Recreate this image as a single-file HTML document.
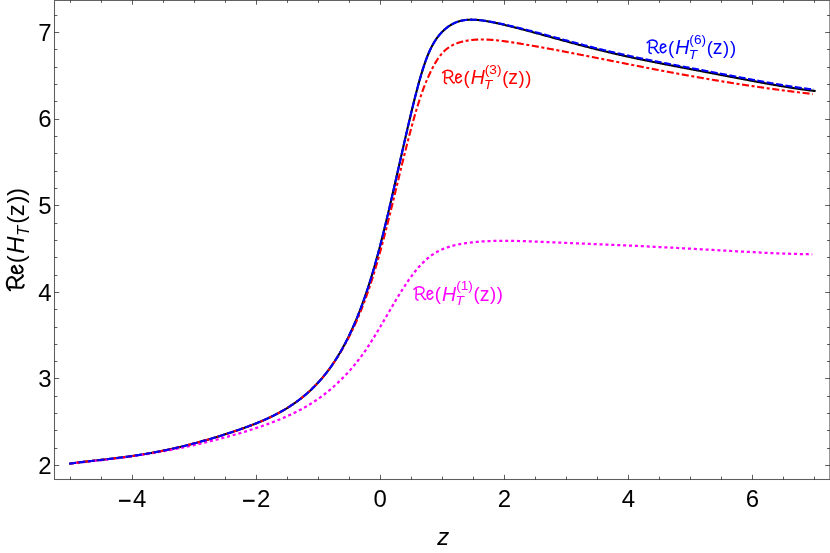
<!DOCTYPE html>
<html><head><meta charset="utf-8"><title>Re(H_T(z))</title>
<style>
html,body{margin:0;padding:0;background:#fff;overflow:hidden;}
svg{display:block;will-change:transform;font-family:"Liberation Sans",sans-serif;}
</style></head>
<body>
<svg width="830" height="553" viewBox="0 0 830 553">
<rect x="0" y="0" width="830" height="553" fill="#fff"/>
<g fill="none" stroke-width="2.1">
<path d="M70.20,463.54 L71.03,463.43 L71.86,463.32 L72.68,463.21 L73.51,463.11 L74.34,463.00 L75.17,462.90 L76.00,462.79 L76.82,462.69 L77.65,462.59 L78.48,462.49 L79.31,462.39 L80.14,462.29 L80.96,462.19 L81.79,462.09 L82.62,461.99 L83.45,461.89 L84.28,461.80 L85.10,461.70 L85.93,461.60 L86.76,461.51 L87.59,461.41 L88.42,461.32 L89.24,461.22 L90.07,461.13 L90.90,461.04 L91.73,460.94 L92.56,460.85 L93.38,460.75 L94.21,460.66 L95.04,460.57 L95.87,460.47 L96.70,460.38 L97.53,460.29 L98.35,460.19 L99.18,460.10 L100.01,460.01 L100.84,459.91 L101.67,459.82 L102.49,459.72 L103.32,459.63 L104.15,459.53 L104.98,459.44 L105.81,459.34 L106.63,459.25 L107.46,459.15 L108.29,459.06 L109.12,458.96 L109.95,458.86 L110.77,458.76 L111.60,458.66 L112.43,458.57 L113.26,458.47 L114.09,458.37 L114.91,458.27 L115.74,458.16 L116.57,458.06 L117.40,457.96 L118.23,457.86 L119.05,457.75 L119.88,457.65 L120.71,457.54 L121.54,457.43 L122.37,457.33 L123.19,457.22 L124.02,457.11 L124.85,457.00 L125.68,456.89 L126.51,456.78 L127.33,456.67 L128.16,456.55 L128.99,456.44 L129.82,456.32 L130.65,456.21 L131.47,456.09 L132.30,455.97 L133.13,455.85 L133.96,455.73 L134.79,455.61 L135.61,455.48 L136.44,455.36 L137.27,455.24 L138.10,455.11 L138.93,454.98 L139.75,454.85 L140.58,454.72 L141.41,454.59 L142.24,454.46 L143.07,454.33 L143.89,454.19 L144.72,454.06 L145.55,453.92 L146.38,453.78 L147.21,453.64 L148.03,453.50 L148.86,453.36 L149.69,453.21 L150.52,453.07 L151.35,452.92 L152.18,452.77 L153.00,452.63 L153.83,452.47 L154.66,452.32 L155.49,452.17 L156.32,452.02 L157.14,451.86 L157.97,451.70 L158.80,451.54 L159.63,451.38 L160.46,451.22 L161.28,451.06 L162.11,450.89 L162.94,450.73 L163.77,450.56 L164.60,450.39 L165.42,450.22 L166.25,450.05 L167.08,449.88 L167.91,449.70 L168.74,449.53 L169.56,449.35 L170.39,449.17 L171.22,448.99 L172.05,448.81 L172.88,448.63 L173.70,448.44 L174.53,448.25 L175.36,448.07 L176.19,447.88 L177.02,447.69 L177.84,447.49 L178.67,447.30 L179.50,447.11 L180.33,446.91 L181.16,446.71 L181.98,446.51 L182.81,446.31 L183.64,446.11 L184.47,445.91 L185.30,445.70 L186.12,445.49 L186.95,445.29 L187.78,445.08 L188.61,444.87 L189.44,444.65 L190.26,444.44 L191.09,444.23 L191.92,444.01 L192.75,443.79 L193.58,443.57 L194.40,443.35 L195.23,443.13 L196.06,442.91 L196.89,442.68 L197.72,442.46 L198.54,442.23 L199.37,442.00 L200.20,441.77 L201.03,441.54 L201.86,441.31 L202.68,441.08 L203.51,440.84 L204.34,440.61 L205.17,440.37 L206.00,440.13 L206.83,439.89 L207.65,439.65 L208.48,439.41 L209.31,439.17 L210.14,438.92 L210.97,438.68 L211.79,438.43 L212.62,438.18 L213.45,437.94 L214.28,437.69 L215.11,437.44 L215.93,437.18 L216.76,436.93 L217.59,436.68 L218.42,436.42 L219.25,436.17 L220.07,435.91 L220.90,435.65 L221.73,435.39 L222.56,435.13 L223.39,434.87 L224.21,434.61 L225.04,434.34 L225.87,434.08 L226.70,433.81 L227.53,433.55 L228.35,433.28 L229.18,433.01 L230.01,432.74 L230.84,432.47 L231.67,432.19 L232.49,431.92 L233.32,431.64 L234.15,431.37 L234.98,431.09 L235.81,430.81 L236.63,430.53 L237.46,430.24 L238.29,429.96 L239.12,429.67 L239.95,429.38 L240.77,429.10 L241.60,428.80 L242.43,428.51 L243.26,428.22 L244.09,427.92 L244.91,427.62 L245.74,427.32 L246.57,427.02 L247.40,426.71 L248.23,426.41 L249.05,426.10 L249.88,425.79 L250.71,425.47 L251.54,425.16 L252.37,424.84 L253.19,424.52 L254.02,424.19 L254.85,423.87 L255.68,423.54 L256.51,423.20 L257.34,422.87 L258.16,422.53 L258.99,422.19 L259.82,421.85 L260.65,421.50 L261.48,421.15 L262.30,420.79 L263.13,420.43 L263.96,420.07 L264.79,419.71 L265.62,419.34 L266.44,418.97 L267.27,418.59 L268.10,418.21 L268.93,417.82 L269.76,417.43 L270.58,417.04 L271.41,416.64 L272.24,416.24 L273.07,415.83 L273.90,415.42 L274.72,415.00 L275.55,414.58 L276.38,414.15 L277.21,413.72 L278.04,413.28 L278.86,412.83 L279.69,412.38 L280.52,411.93 L281.35,411.47 L282.18,411.00 L283.00,410.52 L283.83,410.04 L284.66,409.56 L285.49,409.06 L286.32,408.56 L287.14,408.06 L287.97,407.54 L288.80,407.02 L289.63,406.49 L290.46,405.96 L291.28,405.41 L292.11,404.86 L292.94,404.30 L293.77,403.74 L294.60,403.16 L295.42,402.58 L296.25,401.99 L297.08,401.39 L297.91,400.78 L298.74,400.16 L299.56,399.53 L300.39,398.89 L301.22,398.25 L302.05,397.59 L302.88,396.93 L303.70,396.25 L304.53,395.56 L305.36,394.87 L306.19,394.16 L307.02,393.44 L307.84,392.71 L308.67,391.97 L309.50,391.21 L310.33,390.45 L311.16,389.67 L311.99,388.88 L312.81,388.08 L313.64,387.26 L314.47,386.43 L315.30,385.59 L316.13,384.73 L316.95,383.86 L317.78,382.98 L318.61,382.08 L319.44,381.16 L320.27,380.23 L321.09,379.29 L321.92,378.32 L322.75,377.35 L323.58,376.35 L324.41,375.34 L325.23,374.31 L326.06,373.27 L326.89,372.20 L327.72,371.12 L328.55,370.02 L329.37,368.90 L330.20,367.76 L331.03,366.60 L331.86,365.42 L332.69,364.22 L333.51,363.00 L334.34,361.76 L335.17,360.49 L336.00,359.21 L336.83,357.90 L337.65,356.57 L338.48,355.21 L339.31,353.83 L340.14,352.43 L340.97,351.00 L341.79,349.55 L342.62,348.07 L343.45,346.56 L344.28,345.03 L345.11,343.48 L345.93,341.89 L346.76,340.28 L347.59,338.64 L348.42,336.97 L349.25,335.27 L350.07,333.54 L350.90,331.78 L351.73,329.99 L352.56,328.17 L353.39,326.31 L354.21,324.43 L355.04,322.51 L355.87,320.55 L356.70,318.57 L357.53,316.54 L358.35,314.49 L359.18,312.39 L360.01,310.26 L360.84,308.09 L361.67,305.89 L362.49,303.65 L363.32,301.36 L364.15,299.04 L364.98,296.68 L365.81,294.27 L366.64,291.82 L367.46,289.33 L368.29,286.80 L369.12,284.22 L369.95,281.60 L370.78,278.94 L371.60,276.22 L372.43,273.47 L373.26,270.66 L374.09,267.82 L374.92,264.92 L375.74,261.98 L376.57,259.00 L377.40,255.98 L378.23,252.91 L379.06,249.79 L379.88,246.64 L380.71,243.45 L381.54,240.22 L382.37,236.95 L383.20,233.64 L384.02,230.30 L384.85,226.92 L385.68,223.52 L386.51,220.08 L387.34,216.62 L388.16,213.13 L388.99,209.62 L389.82,206.08 L390.65,202.52 L391.48,198.95 L392.30,195.35 L393.13,191.74 L393.96,188.12 L394.79,184.48 L395.62,180.84 L396.44,177.18 L397.27,173.52 L398.10,169.86 L398.93,166.19 L399.76,162.53 L400.58,158.86 L401.41,155.20 L402.24,151.54 L403.07,147.89 L403.90,144.25 L404.72,140.63 L405.55,137.01 L406.38,133.41 L407.21,129.83 L408.04,126.27 L408.86,122.73 L409.69,119.21 L410.52,115.72 L411.35,112.27 L412.18,108.84 L413.00,105.45 L413.83,102.10 L414.66,98.79 L415.49,95.53 L416.32,92.32 L417.15,89.16 L417.97,86.06 L418.80,83.02 L419.63,80.05 L420.46,77.15 L421.29,74.32 L422.11,71.58 L422.94,68.92 L423.77,66.35 L424.60,63.88 L425.43,61.50 L426.25,59.22 L427.08,57.04 L427.91,54.95 L428.74,52.97 L429.57,51.09 L430.39,49.30 L431.22,47.60 L432.05,46.00 L432.88,44.48 L433.71,43.04 L434.53,41.67 L435.36,40.38 L436.19,39.15 L437.02,37.98 L437.85,36.87 L438.67,35.81 L439.50,34.80 L440.33,33.84 L441.16,32.92 L441.99,32.05 L442.81,31.21 L443.64,30.41 L444.47,29.65 L445.30,28.93 L446.13,28.24 L446.95,27.58 L447.78,26.96 L448.61,26.37 L449.44,25.81 L450.27,25.28 L451.09,24.78 L451.92,24.31 L452.75,23.87 L453.58,23.45 L454.41,23.07 L455.23,22.70 L456.06,22.36 L456.89,22.05 L457.72,21.76 L458.55,21.49 L459.37,21.24 L460.20,21.01 L461.03,20.81 L461.86,20.62 L462.69,20.45 L463.51,20.30 L464.34,20.17 L465.17,20.06 L466.00,19.96 L466.83,19.87 L467.65,19.81 L468.48,19.75 L469.31,19.71 L470.14,19.68 L470.97,19.67 L471.80,19.67 L472.62,19.68 L473.45,19.70 L474.28,19.73 L475.11,19.77 L475.94,19.82 L476.76,19.88 L477.59,19.95 L478.42,20.03 L479.25,20.12 L480.08,20.21 L480.90,20.31 L481.73,20.42 L482.56,20.53 L483.39,20.65 L484.22,20.77 L485.04,20.91 L485.87,21.04 L486.70,21.18 L487.53,21.33 L488.36,21.47 L489.18,21.63 L490.01,21.78 L490.84,21.94 L491.67,22.11 L492.50,22.27 L493.32,22.44 L494.15,22.61 L494.98,22.79 L495.81,22.96 L496.64,23.14 L497.46,23.32 L498.29,23.50 L499.12,23.69 L499.95,23.87 L500.78,24.06 L501.60,24.25 L502.43,24.44 L503.26,24.63 L504.09,24.82 L504.92,25.02 L505.74,25.21 L506.57,25.41 L507.40,25.61 L508.23,25.81 L509.06,26.01 L509.88,26.21 L510.71,26.41 L511.54,26.62 L512.37,26.82 L513.20,27.03 L514.02,27.24 L514.85,27.45 L515.68,27.66 L516.51,27.87 L517.34,28.08 L518.16,28.29 L518.99,28.51 L519.82,28.72 L520.65,28.93 L521.48,29.15 L522.31,29.37 L523.13,29.58 L523.96,29.80 L524.79,30.02 L525.62,30.24 L526.45,30.46 L527.27,30.68 L528.10,30.90 L528.93,31.12 L529.76,31.35 L530.59,31.57 L531.41,31.79 L532.24,32.02 L533.07,32.24 L533.90,32.47 L534.73,32.69 L535.55,32.92 L536.38,33.14 L537.21,33.37 L538.04,33.60 L538.87,33.82 L539.69,34.05 L540.52,34.28 L541.35,34.50 L542.18,34.73 L543.01,34.96 L543.83,35.19 L544.66,35.42 L545.49,35.65 L546.32,35.87 L547.15,36.10 L547.97,36.33 L548.80,36.56 L549.63,36.79 L550.46,37.02 L551.29,37.25 L552.11,37.47 L552.94,37.70 L553.77,37.93 L554.60,38.16 L555.43,38.39 L556.25,38.62 L557.08,38.84 L557.91,39.07 L558.74,39.30 L559.57,39.53 L560.39,39.76 L561.22,39.98 L562.05,40.21 L562.88,40.44 L563.71,40.66 L564.53,40.89 L565.36,41.11 L566.19,41.34 L567.02,41.57 L567.85,41.79 L568.67,42.01 L569.50,42.24 L570.33,42.46 L571.16,42.69 L571.99,42.91 L572.81,43.13 L573.64,43.35 L574.47,43.58 L575.30,43.80 L576.13,44.02 L576.96,44.24 L577.78,44.46 L578.61,44.68 L579.44,44.90 L580.27,45.12 L581.10,45.33 L581.92,45.55 L582.75,45.77 L583.58,45.99 L584.41,46.20 L585.24,46.42 L586.06,46.63 L586.89,46.85 L587.72,47.06 L588.55,47.27 L589.38,47.48 L590.20,47.70 L591.03,47.91 L591.86,48.12 L592.69,48.33 L593.52,48.54 L594.34,48.75 L595.17,48.96 L596.00,49.16 L596.83,49.37 L597.66,49.58 L598.48,49.78 L599.31,49.99 L600.14,50.19 L600.97,50.39 L601.80,50.60 L602.62,50.80 L603.45,51.00 L604.28,51.20 L605.11,51.40 L605.94,51.60 L606.76,51.80 L607.59,52.00 L608.42,52.20 L609.25,52.39 L610.08,52.59 L610.90,52.79 L611.73,52.98 L612.56,53.17 L613.39,53.37 L614.22,53.56 L615.04,53.75 L615.87,53.94 L616.70,54.13 L617.53,54.32 L618.36,54.51 L619.18,54.70 L620.01,54.89 L620.84,55.08 L621.67,55.26 L622.50,55.45 L623.32,55.64 L624.15,55.82 L624.98,56.00 L625.81,56.19 L626.64,56.37 L627.46,56.55 L628.29,56.73 L629.12,56.91 L629.95,57.09 L630.78,57.27 L631.61,57.45 L632.43,57.63 L633.26,57.81 L634.09,57.98 L634.92,58.16 L635.75,58.34 L636.57,58.51 L637.40,58.69 L638.23,58.86 L639.06,59.03 L639.89,59.21 L640.71,59.38 L641.54,59.55 L642.37,59.72 L643.20,59.89 L644.03,60.06 L644.85,60.23 L645.68,60.40 L646.51,60.57 L647.34,60.74 L648.17,60.91 L648.99,61.08 L649.82,61.24 L650.65,61.41 L651.48,61.58 L652.31,61.74 L653.13,61.91 L653.96,62.07 L654.79,62.24 L655.62,62.40 L656.45,62.56 L657.27,62.73 L658.10,62.89 L658.93,63.05 L659.76,63.22 L660.59,63.38 L661.41,63.54 L662.24,63.70 L663.07,63.86 L663.90,64.03 L664.73,64.19 L665.55,64.35 L666.38,64.51 L667.21,64.67 L668.04,64.83 L668.87,64.99 L669.69,65.15 L670.52,65.31 L671.35,65.47 L672.18,65.63 L673.01,65.79 L673.83,65.94 L674.66,66.10 L675.49,66.26 L676.32,66.42 L677.15,66.58 L677.97,66.74 L678.80,66.90 L679.63,67.05 L680.46,67.21 L681.29,67.37 L682.12,67.53 L682.94,67.69 L683.77,67.84 L684.60,68.00 L685.43,68.16 L686.26,68.32 L687.08,68.48 L687.91,68.63 L688.74,68.79 L689.57,68.95 L690.40,69.11 L691.22,69.26 L692.05,69.42 L692.88,69.58 L693.71,69.74 L694.54,69.90 L695.36,70.05 L696.19,70.21 L697.02,70.37 L697.85,70.53 L698.68,70.68 L699.50,70.84 L700.33,71.00 L701.16,71.16 L701.99,71.31 L702.82,71.47 L703.64,71.63 L704.47,71.79 L705.30,71.95 L706.13,72.10 L706.96,72.26 L707.78,72.42 L708.61,72.58 L709.44,72.74 L710.27,72.89 L711.10,73.05 L711.92,73.21 L712.75,73.37 L713.58,73.53 L714.41,73.68 L715.24,73.84 L716.06,74.00 L716.89,74.16 L717.72,74.32 L718.55,74.48 L719.38,74.63 L720.20,74.79 L721.03,74.95 L721.86,75.11 L722.69,75.27 L723.52,75.43 L724.34,75.58 L725.17,75.74 L726.00,75.90 L726.83,76.06 L727.66,76.22 L728.48,76.38 L729.31,76.53 L730.14,76.69 L730.97,76.85 L731.80,77.01 L732.62,77.17 L733.45,77.32 L734.28,77.48 L735.11,77.64 L735.94,77.80 L736.77,77.96 L737.59,78.11 L738.42,78.27 L739.25,78.43 L740.08,78.59 L740.91,78.74 L741.73,78.90 L742.56,79.06 L743.39,79.22 L744.22,79.37 L745.05,79.53 L745.87,79.69 L746.70,79.84 L747.53,80.00 L748.36,80.15 L749.19,80.31 L750.01,80.47 L750.84,80.62 L751.67,80.78 L752.50,80.93 L753.33,81.09 L754.15,81.24 L754.98,81.39 L755.81,81.55 L756.64,81.70 L757.47,81.86 L758.29,82.01 L759.12,82.16 L759.95,82.31 L760.78,82.47 L761.61,82.62 L762.43,82.77 L763.26,82.92 L764.09,83.07 L764.92,83.22 L765.75,83.37 L766.57,83.52 L767.40,83.67 L768.23,83.82 L769.06,83.97 L769.89,84.11 L770.71,84.26 L771.54,84.41 L772.37,84.55 L773.20,84.70 L774.03,84.85 L774.85,84.99 L775.68,85.13 L776.51,85.28 L777.34,85.42 L778.17,85.56 L778.99,85.70 L779.82,85.85 L780.65,85.99 L781.48,86.13 L782.31,86.26 L783.13,86.40 L783.96,86.54 L784.79,86.68 L785.62,86.81 L786.45,86.95 L787.27,87.08 L788.10,87.22 L788.93,87.35 L789.76,87.48 L790.59,87.61 L791.42,87.74 L792.24,87.87 L793.07,88.00 L793.90,88.13 L794.73,88.25 L795.56,88.38 L796.38,88.50 L797.21,88.63 L798.04,88.75 L798.87,88.87 L799.70,88.99 L800.52,89.11 L801.35,89.23 L802.18,89.34 L803.01,89.46 L803.84,89.57 L804.66,89.69 L805.49,89.80 L806.32,89.91 L807.15,90.02 L807.98,90.13 L808.80,90.23 L809.63,90.34 L810.46,90.44 L811.29,90.55 L812.12,90.65 L812.94,90.75 L813.77,90.85 L814.60,90.94" stroke="#000" stroke-linecap="square"/>
<path d="M70.20,463.46 L71.03,463.38 L71.85,463.30 L72.68,463.22 L73.50,463.14 L74.33,463.05 L75.15,462.97 L75.98,462.89 L76.80,462.81 L77.63,462.73 L78.45,462.64 L79.28,462.56 L80.11,462.48 L80.93,462.39 L81.76,462.31 L82.58,462.22 L83.41,462.14 L84.23,462.05 L85.06,461.97 L85.88,461.88 L86.71,461.80 L87.53,461.71 L88.36,461.62 L89.19,461.54 L90.01,461.45 L90.84,461.36 L91.66,461.27 L92.49,461.18 L93.31,461.09 L94.14,461.00 L94.96,460.91 L95.79,460.82 L96.62,460.73 L97.44,460.64 L98.27,460.55 L99.09,460.45 L99.92,460.36 L100.74,460.27 L101.57,460.17 L102.39,460.08 L103.22,459.98 L104.04,459.89 L104.87,459.79 L105.70,459.70 L106.52,459.60 L107.35,459.50 L108.17,459.40 L109.00,459.30 L109.82,459.20 L110.65,459.10 L111.47,459.00 L112.30,458.90 L113.12,458.80 L113.95,458.70 L114.78,458.60 L115.60,458.49 L116.43,458.39 L117.25,458.28 L118.08,458.18 L118.90,458.07 L119.73,457.97 L120.55,457.86 L121.38,457.75 L122.20,457.64 L123.03,457.53 L123.86,457.42 L124.68,457.31 L125.51,457.20 L126.33,457.09 L127.16,456.98 L127.98,456.86 L128.81,456.75 L129.63,456.63 L130.46,456.52 L131.28,456.40 L132.11,456.28 L132.94,456.17 L133.76,456.05 L134.59,455.93 L135.41,455.81 L136.24,455.69 L137.06,455.57 L137.89,455.44 L138.71,455.32 L139.54,455.20 L140.37,455.07 L141.19,454.95 L142.02,454.82 L142.84,454.70 L143.67,454.57 L144.49,454.44 L145.32,454.31 L146.14,454.18 L146.97,454.05 L147.79,453.92 L148.62,453.78 L149.45,453.65 L150.27,453.52 L151.10,453.38 L151.92,453.25 L152.75,453.11 L153.57,452.97 L154.40,452.83 L155.22,452.69 L156.05,452.55 L156.87,452.41 L157.70,452.27 L158.53,452.13 L159.35,451.98 L160.18,451.84 L161.00,451.69 L161.83,451.55 L162.65,451.40 L163.48,451.25 L164.30,451.10 L165.13,450.95 L165.95,450.80 L166.78,450.65 L167.61,450.50 L168.43,450.34 L169.26,450.19 L170.08,450.03 L170.91,449.88 L171.73,449.72 L172.56,449.56 L173.38,449.40 L174.21,449.24 L175.04,449.08 L175.86,448.92 L176.69,448.75 L177.51,448.59 L178.34,448.42 L179.16,448.26 L179.99,448.09 L180.81,447.92 L181.64,447.75 L182.46,447.58 L183.29,447.41 L184.12,447.24 L184.94,447.07 L185.77,446.89 L186.59,446.72 L187.42,446.54 L188.24,446.36 L189.07,446.19 L189.89,446.01 L190.72,445.83 L191.54,445.65 L192.37,445.46 L193.20,445.28 L194.02,445.10 L194.85,444.91 L195.67,444.72 L196.50,444.54 L197.32,444.35 L198.15,444.16 L198.97,443.97 L199.80,443.78 L200.62,443.59 L201.45,443.39 L202.28,443.20 L203.10,443.00 L203.93,442.80 L204.75,442.61 L205.58,442.41 L206.40,442.21 L207.23,442.01 L208.05,441.80 L208.88,441.60 L209.70,441.40 L210.53,441.19 L211.36,440.98 L212.18,440.78 L213.01,440.57 L213.83,440.36 L214.66,440.15 L215.48,439.94 L216.31,439.72 L217.13,439.51 L217.96,439.29 L218.79,439.08 L219.61,438.86 L220.44,438.64 L221.26,438.42 L222.09,438.20 L222.91,437.98 L223.74,437.76 L224.56,437.53 L225.39,437.31 L226.21,437.08 L227.04,436.85 L227.87,436.63 L228.69,436.40 L229.52,436.17 L230.34,435.93 L231.17,435.70 L231.99,435.47 L232.82,435.23 L233.64,435.00 L234.47,434.76 L235.29,434.52 L236.12,434.28 L236.95,434.04 L237.77,433.80 L238.60,433.55 L239.42,433.31 L240.25,433.06 L241.07,432.82 L241.90,432.57 L242.72,432.32 L243.55,432.07 L244.37,431.82 L245.20,431.57 L246.03,431.31 L246.85,431.06 L247.68,430.80 L248.50,430.54 L249.33,430.28 L250.15,430.02 L250.98,429.76 L251.80,429.49 L252.63,429.23 L253.45,428.96 L254.28,428.69 L255.11,428.42 L255.93,428.15 L256.76,427.87 L257.58,427.60 L258.41,427.32 L259.23,427.04 L260.06,426.76 L260.88,426.48 L261.71,426.19 L262.54,425.91 L263.36,425.62 L264.19,425.33 L265.01,425.03 L265.84,424.74 L266.66,424.44 L267.49,424.14 L268.31,423.84 L269.14,423.54 L269.96,423.23 L270.79,422.92 L271.62,422.61 L272.44,422.30 L273.27,421.98 L274.09,421.66 L274.92,421.34 L275.74,421.01 L276.57,420.69 L277.39,420.36 L278.22,420.02 L279.04,419.69 L279.87,419.35 L280.70,419.01 L281.52,418.66 L282.35,418.31 L283.17,417.96 L284.00,417.60 L284.82,417.24 L285.65,416.88 L286.47,416.52 L287.30,416.15 L288.12,415.77 L288.95,415.39 L289.78,415.01 L290.60,414.63 L291.43,414.24 L292.25,413.84 L293.08,413.44 L293.90,413.04 L294.73,412.63 L295.55,412.22 L296.38,411.81 L297.21,411.39 L298.03,410.96 L298.86,410.53 L299.68,410.10 L300.51,409.66 L301.33,409.21 L302.16,408.76 L302.98,408.30 L303.81,407.84 L304.63,407.37 L305.46,406.90 L306.29,406.42 L307.11,405.94 L307.94,405.45 L308.76,404.95 L309.59,404.45 L310.41,403.94 L311.24,403.43 L312.06,402.91 L312.89,402.38 L313.71,401.85 L314.54,401.31 L315.37,400.76 L316.19,400.20 L317.02,399.64 L317.84,399.07 L318.67,398.50 L319.49,397.91 L320.32,397.32 L321.14,396.72 L321.97,396.12 L322.79,395.50 L323.62,394.88 L324.45,394.25 L325.27,393.61 L326.10,392.96 L326.92,392.31 L327.75,391.64 L328.57,390.97 L329.40,390.29 L330.22,389.60 L331.05,388.90 L331.87,388.19 L332.70,387.47 L333.53,386.74 L334.35,386.01 L335.18,385.26 L336.00,384.51 L336.83,383.74 L337.65,382.97 L338.48,382.19 L339.30,381.39 L340.13,380.59 L340.96,379.78 L341.78,378.95 L342.61,378.12 L343.43,377.28 L344.26,376.42 L345.08,375.56 L345.91,374.69 L346.73,373.80 L347.56,372.91 L348.38,372.00 L349.21,371.09 L350.04,370.16 L350.86,369.22 L351.69,368.27 L352.51,367.31 L353.34,366.34 L354.16,365.36 L354.99,364.36 L355.81,363.35 L356.64,362.33 L357.46,361.30 L358.29,360.25 L359.12,359.18 L359.94,358.10 L360.77,357.01 L361.59,355.89 L362.42,354.76 L363.24,353.62 L364.07,352.45 L364.89,351.27 L365.72,350.07 L366.54,348.86 L367.37,347.63 L368.20,346.38 L369.02,345.12 L369.85,343.85 L370.67,342.56 L371.50,341.26 L372.32,339.95 L373.15,338.63 L373.97,337.29 L374.80,335.95 L375.62,334.59 L376.45,333.23 L377.28,331.86 L378.10,330.48 L378.93,329.09 L379.75,327.70 L380.58,326.30 L381.40,324.90 L382.23,323.49 L383.05,322.08 L383.88,320.67 L384.71,319.25 L385.53,317.83 L386.36,316.42 L387.18,315.00 L388.01,313.58 L388.83,312.16 L389.66,310.74 L390.48,309.33 L391.31,307.92 L392.13,306.51 L392.96,305.11 L393.79,303.71 L394.61,302.31 L395.44,300.93 L396.26,299.55 L397.09,298.18 L397.91,296.81 L398.74,295.46 L399.56,294.11 L400.39,292.78 L401.21,291.45 L402.04,290.14 L402.87,288.84 L403.69,287.55 L404.52,286.28 L405.34,285.02 L406.17,283.78 L406.99,282.55 L407.82,281.34 L408.64,280.15 L409.47,278.97 L410.29,277.82 L411.12,276.68 L411.95,275.56 L412.77,274.46 L413.60,273.38 L414.42,272.32 L415.25,271.28 L416.07,270.27 L416.90,269.27 L417.72,268.30 L418.55,267.35 L419.37,266.42 L420.20,265.51 L421.03,264.63 L421.85,263.77 L422.68,262.93 L423.50,262.12 L424.33,261.32 L425.15,260.56 L425.98,259.81 L426.80,259.08 L427.63,258.38 L428.46,257.70 L429.28,257.05 L430.11,256.41 L430.93,255.80 L431.76,255.20 L432.58,254.63 L433.41,254.08 L434.23,253.55 L435.06,253.04 L435.88,252.54 L436.71,252.07 L437.54,251.61 L438.36,251.18 L439.19,250.76 L440.01,250.35 L440.84,249.96 L441.66,249.59 L442.49,249.23 L443.31,248.88 L444.14,248.55 L444.96,248.23 L445.79,247.93 L446.62,247.63 L447.44,247.35 L448.27,247.08 L449.09,246.82 L449.92,246.57 L450.74,246.33 L451.57,246.10 L452.39,245.87 L453.22,245.66 L454.04,245.45 L454.87,245.25 L455.70,245.06 L456.52,244.88 L457.35,244.70 L458.17,244.53 L459.00,244.36 L459.82,244.20 L460.65,244.05 L461.47,243.90 L462.30,243.76 L463.13,243.62 L463.95,243.49 L464.78,243.36 L465.60,243.23 L466.43,243.11 L467.25,243.00 L468.08,242.88 L468.90,242.77 L469.73,242.67 L470.55,242.57 L471.38,242.47 L472.21,242.38 L473.03,242.28 L473.86,242.20 L474.68,242.11 L475.51,242.03 L476.33,241.95 L477.16,241.88 L477.98,241.81 L478.81,241.74 L479.63,241.67 L480.46,241.61 L481.29,241.55 L482.11,241.49 L482.94,241.44 L483.76,241.39 L484.59,241.34 L485.41,241.29 L486.24,241.25 L487.06,241.20 L487.89,241.16 L488.71,241.13 L489.54,241.09 L490.37,241.06 L491.19,241.03 L492.02,241.00 L492.84,240.98 L493.67,240.95 L494.49,240.93 L495.32,240.91 L496.14,240.89 L496.97,240.88 L497.79,240.86 L498.62,240.85 L499.45,240.84 L500.27,240.83 L501.10,240.83 L501.92,240.82 L502.75,240.82 L503.57,240.82 L504.40,240.82 L505.22,240.82 L506.05,240.82 L506.88,240.82 L507.70,240.83 L508.53,240.83 L509.35,240.84 L510.18,240.85 L511.00,240.86 L511.83,240.87 L512.65,240.88 L513.48,240.90 L514.30,240.91 L515.13,240.93 L515.96,240.95 L516.78,240.96 L517.61,240.98 L518.43,241.00 L519.26,241.02 L520.08,241.04 L520.91,241.07 L521.73,241.09 L522.56,241.11 L523.38,241.14 L524.21,241.16 L525.04,241.19 L525.86,241.21 L526.69,241.24 L527.51,241.27 L528.34,241.30 L529.16,241.33 L529.99,241.35 L530.81,241.38 L531.64,241.41 L532.46,241.44 L533.29,241.48 L534.12,241.51 L534.94,241.54 L535.77,241.57 L536.59,241.60 L537.42,241.64 L538.24,241.67 L539.07,241.70 L539.89,241.74 L540.72,241.77 L541.54,241.81 L542.37,241.84 L543.20,241.88 L544.02,241.91 L544.85,241.95 L545.67,241.98 L546.50,242.02 L547.32,242.05 L548.15,242.09 L548.97,242.12 L549.80,242.16 L550.63,242.19 L551.45,242.23 L552.28,242.27 L553.10,242.30 L553.93,242.34 L554.75,242.37 L555.58,242.41 L556.40,242.45 L557.23,242.48 L558.05,242.52 L558.88,242.55 L559.71,242.59 L560.53,242.62 L561.36,242.66 L562.18,242.70 L563.01,242.73 L563.83,242.77 L564.66,242.80 L565.48,242.84 L566.31,242.87 L567.13,242.91 L567.96,242.95 L568.79,242.98 L569.61,243.02 L570.44,243.05 L571.26,243.09 L572.09,243.12 L572.91,243.16 L573.74,243.19 L574.56,243.23 L575.39,243.26 L576.21,243.30 L577.04,243.33 L577.87,243.37 L578.69,243.40 L579.52,243.44 L580.34,243.47 L581.17,243.50 L581.99,243.54 L582.82,243.57 L583.64,243.61 L584.47,243.64 L585.29,243.68 L586.12,243.71 L586.95,243.75 L587.77,243.78 L588.60,243.82 L589.42,243.85 L590.25,243.89 L591.07,243.92 L591.90,243.95 L592.72,243.99 L593.55,244.02 L594.38,244.06 L595.20,244.09 L596.03,244.13 L596.85,244.16 L597.68,244.20 L598.50,244.23 L599.33,244.27 L600.15,244.30 L600.98,244.34 L601.80,244.37 L602.63,244.41 L603.46,244.44 L604.28,244.48 L605.11,244.51 L605.93,244.55 L606.76,244.58 L607.58,244.62 L608.41,244.66 L609.23,244.69 L610.06,244.73 L610.88,244.76 L611.71,244.80 L612.54,244.83 L613.36,244.87 L614.19,244.91 L615.01,244.94 L615.84,244.98 L616.66,245.01 L617.49,245.05 L618.31,245.09 L619.14,245.12 L619.96,245.16 L620.79,245.20 L621.62,245.23 L622.44,245.27 L623.27,245.31 L624.09,245.35 L624.92,245.38 L625.74,245.42 L626.57,245.46 L627.39,245.50 L628.22,245.53 L629.05,245.57 L629.87,245.61 L630.70,245.65 L631.52,245.68 L632.35,245.72 L633.17,245.76 L634.00,245.80 L634.82,245.84 L635.65,245.88 L636.47,245.92 L637.30,245.95 L638.13,245.99 L638.95,246.03 L639.78,246.07 L640.60,246.11 L641.43,246.15 L642.25,246.19 L643.08,246.23 L643.90,246.27 L644.73,246.31 L645.55,246.35 L646.38,246.39 L647.21,246.43 L648.03,246.47 L648.86,246.51 L649.68,246.55 L650.51,246.59 L651.33,246.63 L652.16,246.67 L652.98,246.71 L653.81,246.76 L654.63,246.80 L655.46,246.84 L656.29,246.88 L657.11,246.92 L657.94,246.96 L658.76,247.01 L659.59,247.05 L660.41,247.09 L661.24,247.13 L662.06,247.17 L662.89,247.22 L663.71,247.26 L664.54,247.30 L665.37,247.34 L666.19,247.39 L667.02,247.43 L667.84,247.47 L668.67,247.52 L669.49,247.56 L670.32,247.60 L671.14,247.65 L671.97,247.69 L672.80,247.74 L673.62,247.78 L674.45,247.82 L675.27,247.87 L676.10,247.91 L676.92,247.96 L677.75,248.00 L678.57,248.04 L679.40,248.09 L680.22,248.13 L681.05,248.18 L681.88,248.22 L682.70,248.27 L683.53,248.31 L684.35,248.36 L685.18,248.40 L686.00,248.45 L686.83,248.49 L687.65,248.54 L688.48,248.59 L689.30,248.63 L690.13,248.68 L690.96,248.72 L691.78,248.77 L692.61,248.81 L693.43,248.86 L694.26,248.91 L695.08,248.95 L695.91,249.00 L696.73,249.04 L697.56,249.09 L698.38,249.14 L699.21,249.18 L700.04,249.23 L700.86,249.28 L701.69,249.32 L702.51,249.37 L703.34,249.42 L704.16,249.46 L704.99,249.51 L705.81,249.55 L706.64,249.60 L707.46,249.65 L708.29,249.69 L709.12,249.74 L709.94,249.79 L710.77,249.83 L711.59,249.88 L712.42,249.93 L713.24,249.97 L714.07,250.02 L714.89,250.07 L715.72,250.11 L716.55,250.16 L717.37,250.21 L718.20,250.25 L719.02,250.30 L719.85,250.35 L720.67,250.39 L721.50,250.44 L722.32,250.49 L723.15,250.53 L723.97,250.58 L724.80,250.63 L725.63,250.67 L726.45,250.72 L727.28,250.77 L728.10,250.81 L728.93,250.86 L729.75,250.90 L730.58,250.95 L731.40,251.00 L732.23,251.04 L733.05,251.09 L733.88,251.13 L734.71,251.18 L735.53,251.22 L736.36,251.27 L737.18,251.31 L738.01,251.36 L738.83,251.40 L739.66,251.45 L740.48,251.49 L741.31,251.54 L742.13,251.58 L742.96,251.63 L743.79,251.67 L744.61,251.72 L745.44,251.76 L746.26,251.80 L747.09,251.85 L747.91,251.89 L748.74,251.93 L749.56,251.98 L750.39,252.02 L751.22,252.06 L752.04,252.11 L752.87,252.15 L753.69,252.19 L754.52,252.23 L755.34,252.27 L756.17,252.31 L756.99,252.36 L757.82,252.40 L758.64,252.44 L759.47,252.48 L760.30,252.52 L761.12,252.56 L761.95,252.60 L762.77,252.64 L763.60,252.68 L764.42,252.72 L765.25,252.76 L766.07,252.79 L766.90,252.83 L767.72,252.87 L768.55,252.91 L769.38,252.95 L770.20,252.98 L771.03,253.02 L771.85,253.06 L772.68,253.09 L773.50,253.13 L774.33,253.16 L775.15,253.20 L775.98,253.23 L776.80,253.27 L777.63,253.30 L778.46,253.33 L779.28,253.37 L780.11,253.40 L780.93,253.43 L781.76,253.46 L782.58,253.50 L783.41,253.53 L784.23,253.56 L785.06,253.59 L785.88,253.62 L786.71,253.65 L787.54,253.68 L788.36,253.71 L789.19,253.73 L790.01,253.76 L790.84,253.79 L791.66,253.82 L792.49,253.84 L793.31,253.87 L794.14,253.89 L794.97,253.92 L795.79,253.94 L796.62,253.97 L797.44,253.99 L798.27,254.01 L799.09,254.03 L799.92,254.06 L800.74,254.08 L801.57,254.10 L802.39,254.12 L803.22,254.14 L804.05,254.16 L804.87,254.17 L805.70,254.19 L806.52,254.21 L807.35,254.23 L808.17,254.24 L809.00,254.26 L809.82,254.27 L810.65,254.28 L811.47,254.30 L812.30,254.31" stroke="#ff00ff" stroke-width="2.25" stroke-dasharray="3.05 2.85"/>
<path d="M70.20,463.54 L71.03,463.42 L71.85,463.31 L72.68,463.20 L73.50,463.09 L74.33,462.98 L75.16,462.87 L75.98,462.76 L76.81,462.65 L77.63,462.55 L78.46,462.45 L79.29,462.34 L80.11,462.24 L80.94,462.14 L81.76,462.04 L82.59,461.94 L83.41,461.84 L84.24,461.75 L85.07,461.65 L85.89,461.55 L86.72,461.46 L87.54,461.37 L88.37,461.27 L89.20,461.18 L90.02,461.08 L90.85,460.99 L91.67,460.90 L92.50,460.81 L93.33,460.71 L94.15,460.62 L94.98,460.53 L95.80,460.44 L96.63,460.35 L97.46,460.26 L98.28,460.17 L99.11,460.08 L99.93,459.99 L100.76,459.89 L101.58,459.80 L102.41,459.71 L103.24,459.62 L104.06,459.53 L104.89,459.44 L105.71,459.34 L106.54,459.25 L107.37,459.16 L108.19,459.06 L109.02,458.97 L109.84,458.88 L110.67,458.78 L111.50,458.69 L112.32,458.59 L113.15,458.49 L113.97,458.40 L114.80,458.30 L115.63,458.20 L116.45,458.10 L117.28,458.00 L118.10,457.90 L118.93,457.80 L119.76,457.70 L120.58,457.59 L121.41,457.49 L122.23,457.38 L123.06,457.28 L123.88,457.17 L124.71,457.06 L125.54,456.96 L126.36,456.85 L127.19,456.73 L128.01,456.62 L128.84,456.51 L129.67,456.40 L130.49,456.28 L131.32,456.17 L132.14,456.05 L132.97,455.93 L133.80,455.81 L134.62,455.69 L135.45,455.57 L136.27,455.44 L137.10,455.32 L137.93,455.19 L138.75,455.07 L139.58,454.94 L140.40,454.81 L141.23,454.68 L142.05,454.55 L142.88,454.41 L143.71,454.28 L144.53,454.14 L145.36,454.00 L146.18,453.87 L147.01,453.73 L147.84,453.58 L148.66,453.44 L149.49,453.30 L150.31,453.15 L151.14,453.00 L151.97,452.85 L152.79,452.70 L153.62,452.55 L154.44,452.40 L155.27,452.24 L156.10,452.09 L156.92,451.93 L157.75,451.77 L158.57,451.61 L159.40,451.45 L160.23,451.28 L161.05,451.12 L161.88,450.95 L162.70,450.78 L163.53,450.61 L164.35,450.44 L165.18,450.27 L166.01,450.10 L166.83,449.92 L167.66,449.74 L168.48,449.57 L169.31,449.39 L170.14,449.20 L170.96,449.02 L171.79,448.84 L172.61,448.65 L173.44,448.46 L174.27,448.28 L175.09,448.09 L175.92,447.89 L176.74,447.70 L177.57,447.51 L178.40,447.31 L179.22,447.11 L180.05,446.92 L180.87,446.72 L181.70,446.51 L182.52,446.31 L183.35,446.11 L184.18,445.90 L185.00,445.70 L185.83,445.49 L186.65,445.28 L187.48,445.07 L188.31,444.86 L189.13,444.65 L189.96,444.43 L190.78,444.22 L191.61,444.00 L192.44,443.78 L193.26,443.56 L194.09,443.34 L194.91,443.12 L195.74,442.90 L196.57,442.68 L197.39,442.45 L198.22,442.23 L199.04,442.00 L199.87,441.78 L200.69,441.55 L201.52,441.32 L202.35,441.09 L203.17,440.86 L204.00,440.63 L204.82,440.39 L205.65,440.16 L206.48,439.92 L207.30,439.69 L208.13,439.45 L208.95,439.21 L209.78,438.98 L210.61,438.74 L211.43,438.50 L212.26,438.25 L213.08,438.01 L213.91,437.77 L214.74,437.52 L215.56,437.28 L216.39,437.03 L217.21,436.78 L218.04,436.54 L218.87,436.29 L219.69,436.04 L220.52,435.78 L221.34,435.53 L222.17,435.28 L222.99,435.02 L223.82,434.77 L224.65,434.51 L225.47,434.25 L226.30,433.99 L227.12,433.73 L227.95,433.47 L228.78,433.20 L229.60,432.94 L230.43,432.67 L231.25,432.40 L232.08,432.13 L232.91,431.86 L233.73,431.59 L234.56,431.32 L235.38,431.04 L236.21,430.76 L237.04,430.49 L237.86,430.20 L238.69,429.92 L239.51,429.64 L240.34,429.35 L241.16,429.06 L241.99,428.77 L242.82,428.48 L243.64,428.19 L244.47,427.89 L245.29,427.59 L246.12,427.29 L246.95,426.99 L247.77,426.69 L248.60,426.38 L249.42,426.07 L250.25,425.76 L251.08,425.44 L251.90,425.12 L252.73,424.80 L253.55,424.48 L254.38,424.15 L255.21,423.83 L256.03,423.49 L256.86,423.16 L257.68,422.82 L258.51,422.48 L259.34,422.14 L260.16,421.79 L260.99,421.44 L261.81,421.08 L262.64,420.72 L263.46,420.36 L264.29,420.00 L265.12,419.63 L265.94,419.25 L266.77,418.88 L267.59,418.49 L268.42,418.11 L269.25,417.72 L270.07,417.32 L270.90,416.93 L271.72,416.52 L272.55,416.12 L273.38,415.70 L274.20,415.29 L275.03,414.86 L275.85,414.44 L276.68,414.00 L277.51,413.57 L278.33,413.12 L279.16,412.67 L279.98,412.22 L280.81,411.76 L281.63,411.29 L282.46,410.82 L283.29,410.34 L284.11,409.86 L284.94,409.37 L285.76,408.87 L286.59,408.37 L287.42,407.86 L288.24,407.34 L289.07,406.82 L289.89,406.28 L290.72,405.74 L291.55,405.20 L292.37,404.64 L293.20,404.08 L294.02,403.51 L294.85,402.93 L295.68,402.35 L296.50,401.75 L297.33,401.15 L298.15,400.53 L298.98,399.91 L299.81,399.28 L300.63,398.64 L301.46,397.99 L302.28,397.33 L303.11,396.66 L303.93,395.98 L304.76,395.29 L305.59,394.59 L306.41,393.88 L307.24,393.16 L308.06,392.42 L308.89,391.68 L309.72,390.92 L310.54,390.15 L311.37,389.37 L312.19,388.58 L313.02,387.78 L313.85,386.96 L314.67,386.13 L315.50,385.28 L316.32,384.43 L317.15,383.56 L317.98,382.67 L318.80,381.78 L319.63,380.86 L320.45,379.94 L321.28,379.00 L322.10,378.04 L322.93,377.07 L323.76,376.08 L324.58,375.08 L325.41,374.06 L326.23,373.02 L327.06,371.97 L327.89,370.90 L328.71,369.82 L329.54,368.72 L330.36,367.60 L331.19,366.46 L332.02,365.30 L332.84,364.13 L333.67,362.93 L334.49,361.72 L335.32,360.49 L336.15,359.24 L336.97,357.97 L337.80,356.68 L338.62,355.37 L339.45,354.04 L340.28,352.68 L341.10,351.31 L341.93,349.91 L342.75,348.49 L343.58,347.05 L344.40,345.58 L345.23,344.09 L346.06,342.58 L346.88,341.04 L347.71,339.48 L348.53,337.89 L349.36,336.28 L350.19,334.63 L351.01,332.97 L351.84,331.27 L352.66,329.55 L353.49,327.79 L354.32,326.01 L355.14,324.20 L355.97,322.36 L356.79,320.48 L357.62,318.58 L358.45,316.64 L359.27,314.67 L360.10,312.66 L360.92,310.62 L361.75,308.55 L362.57,306.44 L363.40,304.29 L364.23,302.11 L365.05,299.88 L365.88,297.62 L366.70,295.32 L367.53,292.98 L368.36,290.60 L369.18,288.17 L370.01,285.70 L370.83,283.19 L371.66,280.64 L372.49,278.04 L373.31,275.40 L374.14,272.71 L374.96,269.98 L375.79,267.20 L376.62,264.39 L377.44,261.53 L378.27,258.62 L379.09,255.68 L379.92,252.70 L380.75,249.68 L381.57,246.63 L382.40,243.54 L383.22,240.42 L384.05,237.27 L384.87,234.09 L385.70,230.88 L386.53,227.65 L387.35,224.39 L388.18,221.12 L389.00,217.82 L389.83,214.50 L390.66,211.16 L391.48,207.80 L392.31,204.43 L393.13,201.04 L393.96,197.64 L394.79,194.24 L395.61,190.82 L396.44,187.40 L397.26,183.98 L398.09,180.56 L398.92,177.14 L399.74,173.73 L400.57,170.33 L401.39,166.93 L402.22,163.55 L403.04,160.19 L403.87,156.84 L404.70,153.51 L405.52,150.21 L406.35,146.93 L407.17,143.68 L408.00,140.46 L408.83,137.27 L409.65,134.12 L410.48,131.00 L411.30,127.92 L412.13,124.89 L412.96,121.90 L413.78,118.95 L414.61,116.05 L415.43,113.21 L416.26,110.41 L417.09,107.67 L417.91,104.99 L418.74,102.36 L419.56,99.80 L420.39,97.30 L421.22,94.86 L422.04,92.50 L422.87,90.20 L423.69,87.97 L424.52,85.81 L425.34,83.71 L426.17,81.69 L427.00,79.73 L427.82,77.84 L428.65,76.00 L429.47,74.22 L430.30,72.50 L431.13,70.82 L431.95,69.18 L432.78,67.58 L433.60,66.03 L434.43,64.52 L435.26,63.06 L436.08,61.65 L436.91,60.30 L437.73,59.02 L438.56,57.80 L439.39,56.65 L440.21,55.56 L441.04,54.54 L441.86,53.57 L442.69,52.66 L443.51,51.81 L444.34,51.00 L445.17,50.25 L445.99,49.54 L446.82,48.87 L447.64,48.24 L448.47,47.65 L449.30,47.09 L450.12,46.57 L450.95,46.08 L451.77,45.62 L452.60,45.19 L453.43,44.78 L454.25,44.40 L455.08,44.04 L455.90,43.70 L456.73,43.39 L457.56,43.09 L458.38,42.80 L459.21,42.54 L460.03,42.29 L460.86,42.05 L461.68,41.83 L462.51,41.62 L463.34,41.42 L464.16,41.23 L464.99,41.06 L465.81,40.89 L466.64,40.74 L467.47,40.60 L468.29,40.46 L469.12,40.34 L469.94,40.22 L470.77,40.12 L471.60,40.02 L472.42,39.93 L473.25,39.85 L474.07,39.78 L474.90,39.72 L475.73,39.66 L476.55,39.62 L477.38,39.58 L478.20,39.55 L479.03,39.52 L479.86,39.50 L480.68,39.49 L481.51,39.48 L482.33,39.49 L483.16,39.49 L483.98,39.51 L484.81,39.52 L485.64,39.55 L486.46,39.58 L487.29,39.61 L488.11,39.65 L488.94,39.70 L489.77,39.75 L490.59,39.80 L491.42,39.86 L492.24,39.92 L493.07,39.99 L493.90,40.06 L494.72,40.13 L495.55,40.21 L496.37,40.29 L497.20,40.38 L498.03,40.47 L498.85,40.56 L499.68,40.65 L500.50,40.75 L501.33,40.85 L502.15,40.95 L502.98,41.05 L503.81,41.16 L504.63,41.27 L505.46,41.38 L506.28,41.50 L507.11,41.61 L507.94,41.73 L508.76,41.85 L509.59,41.97 L510.41,42.09 L511.24,42.22 L512.07,42.34 L512.89,42.47 L513.72,42.60 L514.54,42.73 L515.37,42.86 L516.20,42.99 L517.02,43.12 L517.85,43.25 L518.67,43.39 L519.50,43.52 L520.33,43.66 L521.15,43.80 L521.98,43.94 L522.80,44.07 L523.63,44.21 L524.45,44.35 L525.28,44.49 L526.11,44.63 L526.93,44.78 L527.76,44.92 L528.58,45.06 L529.41,45.20 L530.24,45.35 L531.06,45.49 L531.89,45.63 L532.71,45.78 L533.54,45.92 L534.37,46.07 L535.19,46.21 L536.02,46.36 L536.84,46.51 L537.67,46.65 L538.50,46.80 L539.32,46.95 L540.15,47.10 L540.97,47.25 L541.80,47.40 L542.62,47.55 L543.45,47.70 L544.28,47.85 L545.10,48.00 L545.93,48.15 L546.75,48.30 L547.58,48.45 L548.41,48.60 L549.23,48.76 L550.06,48.91 L550.88,49.06 L551.71,49.22 L552.54,49.37 L553.36,49.52 L554.19,49.68 L555.01,49.83 L555.84,49.99 L556.67,50.14 L557.49,50.30 L558.32,50.45 L559.14,50.61 L559.97,50.77 L560.80,50.92 L561.62,51.08 L562.45,51.24 L563.27,51.39 L564.10,51.55 L564.92,51.71 L565.75,51.87 L566.58,52.02 L567.40,52.18 L568.23,52.34 L569.05,52.50 L569.88,52.66 L570.71,52.82 L571.53,52.98 L572.36,53.14 L573.18,53.30 L574.01,53.46 L574.84,53.62 L575.66,53.78 L576.49,53.94 L577.31,54.10 L578.14,54.26 L578.97,54.42 L579.79,54.58 L580.62,54.75 L581.44,54.91 L582.27,55.07 L583.09,55.23 L583.92,55.39 L584.75,55.55 L585.57,55.72 L586.40,55.88 L587.22,56.04 L588.05,56.20 L588.88,56.37 L589.70,56.53 L590.53,56.69 L591.35,56.86 L592.18,57.02 L593.01,57.18 L593.83,57.34 L594.66,57.51 L595.48,57.67 L596.31,57.83 L597.14,58.00 L597.96,58.16 L598.79,58.32 L599.61,58.49 L600.44,58.65 L601.27,58.82 L602.09,58.98 L602.92,59.14 L603.74,59.31 L604.57,59.47 L605.39,59.63 L606.22,59.80 L607.05,59.96 L607.87,60.13 L608.70,60.29 L609.52,60.45 L610.35,60.62 L611.18,60.78 L612.00,60.94 L612.83,61.11 L613.65,61.27 L614.48,61.44 L615.31,61.60 L616.13,61.76 L616.96,61.93 L617.78,62.09 L618.61,62.25 L619.44,62.42 L620.26,62.58 L621.09,62.74 L621.91,62.91 L622.74,63.07 L623.56,63.23 L624.39,63.40 L625.22,63.56 L626.04,63.72 L626.87,63.88 L627.69,64.05 L628.52,64.21 L629.35,64.37 L630.17,64.54 L631.00,64.70 L631.82,64.86 L632.65,65.02 L633.48,65.18 L634.30,65.35 L635.13,65.51 L635.95,65.67 L636.78,65.83 L637.61,65.99 L638.43,66.15 L639.26,66.32 L640.08,66.48 L640.91,66.64 L641.74,66.80 L642.56,66.96 L643.39,67.12 L644.21,67.28 L645.04,67.44 L645.86,67.60 L646.69,67.76 L647.52,67.92 L648.34,68.08 L649.17,68.24 L649.99,68.40 L650.82,68.56 L651.65,68.72 L652.47,68.88 L653.30,69.03 L654.12,69.19 L654.95,69.35 L655.78,69.51 L656.60,69.67 L657.43,69.82 L658.25,69.98 L659.08,70.14 L659.91,70.30 L660.73,70.45 L661.56,70.61 L662.38,70.77 L663.21,70.92 L664.03,71.08 L664.86,71.23 L665.69,71.39 L666.51,71.54 L667.34,71.70 L668.16,71.85 L668.99,72.01 L669.82,72.16 L670.64,72.32 L671.47,72.47 L672.29,72.63 L673.12,72.78 L673.95,72.93 L674.77,73.08 L675.60,73.24 L676.42,73.39 L677.25,73.54 L678.08,73.69 L678.90,73.85 L679.73,74.00 L680.55,74.15 L681.38,74.30 L682.21,74.45 L683.03,74.60 L683.86,74.75 L684.68,74.90 L685.51,75.05 L686.33,75.20 L687.16,75.35 L687.99,75.50 L688.81,75.64 L689.64,75.79 L690.46,75.94 L691.29,76.09 L692.12,76.24 L692.94,76.38 L693.77,76.53 L694.59,76.68 L695.42,76.82 L696.25,76.97 L697.07,77.11 L697.90,77.26 L698.72,77.40 L699.55,77.55 L700.38,77.69 L701.20,77.84 L702.03,77.98 L702.85,78.12 L703.68,78.26 L704.50,78.41 L705.33,78.55 L706.16,78.69 L706.98,78.83 L707.81,78.97 L708.63,79.12 L709.46,79.26 L710.29,79.40 L711.11,79.54 L711.94,79.68 L712.76,79.82 L713.59,79.95 L714.42,80.09 L715.24,80.23 L716.07,80.37 L716.89,80.51 L717.72,80.64 L718.55,80.78 L719.37,80.92 L720.20,81.05 L721.02,81.19 L721.85,81.33 L722.67,81.46 L723.50,81.60 L724.33,81.73 L725.15,81.87 L725.98,82.00 L726.80,82.13 L727.63,82.27 L728.46,82.40 L729.28,82.53 L730.11,82.66 L730.93,82.79 L731.76,82.93 L732.59,83.06 L733.41,83.19 L734.24,83.32 L735.06,83.45 L735.89,83.58 L736.72,83.71 L737.54,83.84 L738.37,83.96 L739.19,84.09 L740.02,84.22 L740.85,84.35 L741.67,84.47 L742.50,84.60 L743.32,84.73 L744.15,84.85 L744.97,84.98 L745.80,85.10 L746.63,85.23 L747.45,85.35 L748.28,85.48 L749.10,85.60 L749.93,85.72 L750.76,85.85 L751.58,85.97 L752.41,86.09 L753.23,86.21 L754.06,86.33 L754.89,86.45 L755.71,86.58 L756.54,86.70 L757.36,86.82 L758.19,86.94 L759.02,87.05 L759.84,87.17 L760.67,87.29 L761.49,87.41 L762.32,87.53 L763.14,87.64 L763.97,87.76 L764.80,87.88 L765.62,87.99 L766.45,88.11 L767.27,88.22 L768.10,88.34 L768.93,88.45 L769.75,88.57 L770.58,88.68 L771.40,88.79 L772.23,88.91 L773.06,89.02 L773.88,89.13 L774.71,89.24 L775.53,89.36 L776.36,89.47 L777.19,89.58 L778.01,89.69 L778.84,89.80 L779.66,89.91 L780.49,90.02 L781.32,90.13 L782.14,90.23 L782.97,90.34 L783.79,90.45 L784.62,90.56 L785.44,90.66 L786.27,90.77 L787.10,90.88 L787.92,90.98 L788.75,91.09 L789.57,91.19 L790.40,91.30 L791.23,91.40 L792.05,91.51 L792.88,91.61 L793.70,91.71 L794.53,91.82 L795.36,91.92 L796.18,92.02 L797.01,92.12 L797.83,92.22 L798.66,92.32 L799.49,92.42 L800.31,92.52 L801.14,92.62 L801.96,92.72 L802.79,92.82 L803.61,92.92 L804.44,93.02 L805.27,93.12 L806.09,93.22 L806.92,93.31 L807.74,93.41 L808.57,93.51 L809.40,93.60 L810.22,93.70 L811.05,93.79 L811.87,93.89 L812.70,93.98" stroke="#ff0000" stroke-dasharray="7.05 2.6 3.02 2.6" stroke-dashoffset="3"/>
<path d="M69.20,463.67 L70.03,463.56 L70.86,463.45 L71.68,463.34 L72.51,463.23 L73.34,463.13 L74.17,463.02 L75.00,462.92 L75.83,462.81 L76.65,462.71 L77.48,462.61 L78.31,462.51 L79.14,462.41 L79.97,462.31 L80.80,462.21 L81.62,462.11 L82.45,462.01 L83.28,461.91 L84.11,461.82 L84.94,461.72 L85.77,461.62 L86.59,461.53 L87.42,461.43 L88.25,461.34 L89.08,461.24 L89.91,461.15 L90.73,461.05 L91.56,460.96 L92.39,460.87 L93.22,460.77 L94.05,460.68 L94.88,460.59 L95.70,460.49 L96.53,460.40 L97.36,460.31 L98.19,460.21 L99.02,460.12 L99.85,460.02 L100.67,459.93 L101.50,459.84 L102.33,459.74 L103.16,459.65 L103.99,459.55 L104.81,459.46 L105.64,459.36 L106.47,459.27 L107.30,459.17 L108.13,459.07 L108.96,458.98 L109.78,458.88 L110.61,458.78 L111.44,458.68 L112.27,458.59 L113.10,458.49 L113.93,458.39 L114.75,458.28 L115.58,458.18 L116.41,458.08 L117.24,457.98 L118.07,457.88 L118.90,457.77 L119.72,457.67 L120.55,457.56 L121.38,457.45 L122.21,457.35 L123.04,457.24 L123.86,457.13 L124.69,457.02 L125.52,456.91 L126.35,456.80 L127.18,456.69 L128.01,456.57 L128.83,456.46 L129.66,456.34 L130.49,456.23 L131.32,456.11 L132.15,455.99 L132.98,455.87 L133.80,455.75 L134.63,455.63 L135.46,455.51 L136.29,455.38 L137.12,455.26 L137.95,455.13 L138.77,455.01 L139.60,454.88 L140.43,454.75 L141.26,454.62 L142.09,454.48 L142.91,454.35 L143.74,454.22 L144.57,454.08 L145.40,453.94 L146.23,453.81 L147.06,453.67 L147.88,453.53 L148.71,453.38 L149.54,453.24 L150.37,453.09 L151.20,452.95 L152.03,452.80 L152.85,452.65 L153.68,452.50 L154.51,452.35 L155.34,452.20 L156.17,452.04 L156.99,451.89 L157.82,451.73 L158.65,451.57 L159.48,451.41 L160.31,451.25 L161.14,451.09 L161.96,450.92 L162.79,450.76 L163.62,450.59 L164.45,450.42 L165.28,450.25 L166.11,450.08 L166.93,449.91 L167.76,449.73 L168.59,449.56 L169.42,449.38 L170.25,449.20 L171.08,449.02 L171.90,448.84 L172.73,448.66 L173.56,448.47 L174.39,448.29 L175.22,448.10 L176.04,447.91 L176.87,447.72 L177.70,447.53 L178.53,447.33 L179.36,447.14 L180.19,446.94 L181.01,446.75 L181.84,446.55 L182.67,446.35 L183.50,446.14 L184.33,445.94 L185.16,445.74 L185.98,445.53 L186.81,445.32 L187.64,445.11 L188.47,444.90 L189.30,444.69 L190.13,444.48 L190.95,444.26 L191.78,444.05 L192.61,443.83 L193.44,443.61 L194.27,443.39 L195.09,443.17 L195.92,442.95 L196.75,442.72 L197.58,442.50 L198.41,442.27 L199.24,442.04 L200.06,441.81 L200.89,441.58 L201.72,441.35 L202.55,441.12 L203.38,440.88 L204.21,440.65 L205.03,440.41 L205.86,440.17 L206.69,439.93 L207.52,439.69 L208.35,439.45 L209.17,439.21 L210.00,438.96 L210.83,438.72 L211.66,438.47 L212.49,438.22 L213.32,437.98 L214.14,437.73 L214.97,437.48 L215.80,437.22 L216.63,436.97 L217.46,436.72 L218.29,436.46 L219.11,436.21 L219.94,435.95 L220.77,435.69 L221.60,435.43 L222.43,435.17 L223.26,434.91 L224.08,434.65 L224.91,434.39 L225.74,434.12 L226.57,433.86 L227.40,433.59 L228.22,433.32 L229.05,433.05 L229.88,432.78 L230.71,432.51 L231.54,432.24 L232.37,431.96 L233.19,431.69 L234.02,431.41 L234.85,431.13 L235.68,430.85 L236.51,430.57 L237.34,430.29 L238.16,430.00 L238.99,429.72 L239.82,429.43 L240.65,429.14 L241.48,428.85 L242.31,428.56 L243.13,428.26 L243.96,427.96 L244.79,427.67 L245.62,427.37 L246.45,427.06 L247.27,426.76 L248.10,426.45 L248.93,426.14 L249.76,425.83 L250.59,425.52 L251.42,425.20 L252.24,424.88 L253.07,424.56 L253.90,424.24 L254.73,423.91 L255.56,423.59 L256.39,423.25 L257.21,422.92 L258.04,422.58 L258.87,422.24 L259.70,421.90 L260.53,421.55 L261.35,421.20 L262.18,420.84 L263.01,420.49 L263.84,420.13 L264.67,419.76 L265.50,419.39 L266.32,419.02 L267.15,418.64 L267.98,418.26 L268.81,417.88 L269.64,417.49 L270.47,417.10 L271.29,416.70 L272.12,416.29 L272.95,415.89 L273.78,415.48 L274.61,415.06 L275.44,414.64 L276.26,414.21 L277.09,413.78 L277.92,413.34 L278.75,412.89 L279.58,412.45 L280.40,411.99 L281.23,411.53 L282.06,411.06 L282.89,410.59 L283.72,410.11 L284.55,409.62 L285.37,409.13 L286.20,408.63 L287.03,408.13 L287.86,407.61 L288.69,407.09 L289.52,406.57 L290.34,406.03 L291.17,405.49 L292.00,404.94 L292.83,404.38 L293.66,403.81 L294.48,403.24 L295.31,402.66 L296.14,402.07 L296.97,401.47 L297.80,400.86 L298.63,400.24 L299.45,399.62 L300.28,398.98 L301.11,398.33 L301.94,397.68 L302.77,397.01 L303.60,396.34 L304.42,395.65 L305.25,394.96 L306.08,394.25 L306.91,393.53 L307.74,392.80 L308.57,392.06 L309.39,391.31 L310.22,390.55 L311.05,389.77 L311.88,388.98 L312.71,388.18 L313.53,387.37 L314.36,386.54 L315.19,385.70 L316.02,384.84 L316.85,383.97 L317.68,383.09 L318.50,382.19 L319.33,381.28 L320.16,380.35 L320.99,379.41 L321.82,378.45 L322.65,377.47 L323.47,376.48 L324.30,375.47 L325.13,374.44 L325.96,373.40 L326.79,372.33 L327.62,371.25 L328.44,370.15 L329.27,369.04 L330.10,367.90 L330.93,366.74 L331.76,365.56 L332.58,364.37 L333.41,363.15 L334.24,361.91 L335.07,360.65 L335.90,359.36 L336.73,358.06 L337.55,356.73 L338.38,355.37 L339.21,354.00 L340.04,352.60 L340.87,351.17 L341.70,349.72 L342.52,348.25 L343.35,346.74 L344.18,345.22 L345.01,343.66 L345.84,342.08 L346.66,340.47 L347.49,338.83 L348.32,337.16 L349.15,335.47 L349.98,333.74 L350.81,331.98 L351.63,330.20 L352.46,328.38 L353.29,326.53 L354.12,324.64 L354.95,322.73 L355.78,320.78 L356.60,318.79 L357.43,316.78 L358.26,314.72 L359.09,312.63 L359.92,310.51 L360.75,308.34 L361.57,306.14 L362.40,303.90 L363.23,301.62 L364.06,299.30 L364.89,296.94 L365.71,294.54 L366.54,292.10 L367.37,289.61 L368.20,287.08 L369.03,284.51 L369.86,281.89 L370.68,279.23 L371.51,276.52 L372.34,273.77 L373.17,270.97 L374.00,268.13 L374.83,265.24 L375.65,262.30 L376.48,259.33 L377.31,256.30 L378.14,253.24 L378.97,250.13 L379.80,246.98 L380.62,243.79 L381.45,240.56 L382.28,237.29 L383.11,233.99 L383.94,230.65 L384.76,227.28 L385.59,223.88 L386.42,220.44 L387.25,216.98 L388.08,213.50 L388.91,209.98 L389.73,206.45 L390.56,202.89 L391.39,199.32 L392.22,195.72 L393.05,192.11 L393.88,188.49 L394.70,184.85 L395.53,181.21 L396.36,177.56 L397.19,173.90 L398.02,170.23 L398.84,166.56 L399.67,162.90 L400.50,159.23 L401.33,155.57 L402.16,151.91 L402.99,148.26 L403.81,144.61 L404.64,140.98 L405.47,137.37 L406.30,133.76 L407.13,130.18 L407.96,126.62 L408.78,123.07 L409.61,119.55 L410.44,116.06 L411.27,112.60 L412.10,109.17 L412.93,105.77 L413.75,102.42 L414.58,99.11 L415.41,95.84 L416.24,92.62 L417.07,89.46 L417.89,86.35 L418.72,83.30 L419.55,80.32 L420.38,77.42 L421.21,74.58 L422.04,71.83 L422.86,69.16 L423.69,66.59 L424.52,64.10 L425.35,61.71 L426.18,59.42 L427.01,57.23 L427.83,55.14 L428.66,53.15 L429.49,51.25 L430.32,49.46 L431.15,47.75 L431.98,46.14 L432.80,44.61 L433.63,43.16 L434.46,41.79 L435.29,40.49 L436.12,39.26 L436.94,38.08 L437.77,36.97 L438.60,35.90 L439.43,34.89 L440.26,33.92 L441.09,33.00 L441.91,32.12 L442.74,31.28 L443.57,30.48 L444.40,29.72 L445.23,28.99 L446.06,28.29 L446.88,27.63 L447.71,27.01 L448.54,26.42 L449.37,25.85 L450.20,25.32 L451.02,24.82 L451.85,24.35 L452.68,23.90 L453.51,23.49 L454.34,23.10 L455.17,22.73 L455.99,22.39 L456.82,22.07 L457.65,21.78 L458.48,21.51 L459.31,21.26 L460.14,21.03 L460.96,20.82 L461.79,20.64 L462.62,20.47 L463.45,20.31 L464.28,20.18 L465.11,20.06 L465.93,19.96 L466.76,19.88 L467.59,19.81 L468.42,19.76 L469.25,19.71 L470.07,19.69 L470.90,19.67 L471.73,19.67 L472.56,19.68 L473.39,19.70 L474.22,19.73 L475.04,19.77 L475.87,19.82 L476.70,19.88 L477.53,19.95 L478.36,20.02 L479.19,20.09 L480.01,20.17 L480.84,20.26 L481.67,20.35 L482.50,20.45 L483.33,20.56 L484.16,20.67 L484.98,20.78 L485.81,20.91 L486.64,21.03 L487.47,21.16 L488.30,21.30 L489.12,21.44 L489.95,21.58 L490.78,21.73 L491.61,21.88 L492.44,22.03 L493.27,22.19 L494.09,22.34 L494.92,22.50 L495.75,22.67 L496.58,22.83 L497.41,23.00 L498.24,23.17 L499.06,23.34 L499.89,23.51 L500.72,23.69 L501.55,23.87 L502.38,24.05 L503.20,24.23 L504.03,24.41 L504.86,24.59 L505.69,24.78 L506.52,24.97 L507.35,25.15 L508.17,25.34 L509.00,25.53 L509.83,25.72 L510.66,25.92 L511.49,26.11 L512.32,26.31 L513.14,26.50 L513.97,26.70 L514.80,26.90 L515.63,27.10 L516.46,27.30 L517.29,27.50 L518.11,27.70 L518.94,27.91 L519.77,28.11 L520.60,28.32 L521.43,28.52 L522.25,28.73 L523.08,28.94 L523.91,29.16 L524.74,29.37 L525.57,29.58 L526.40,29.79 L527.22,30.01 L528.05,30.22 L528.88,30.43 L529.71,30.65 L530.54,30.86 L531.37,31.08 L532.19,31.30 L533.02,31.52 L533.85,31.73 L534.68,31.95 L535.51,32.17 L536.34,32.39 L537.16,32.61 L537.99,32.83 L538.82,33.05 L539.65,33.27 L540.48,33.49 L541.30,33.71 L542.13,33.93 L542.96,34.15 L543.79,34.37 L544.62,34.59 L545.45,34.81 L546.27,35.03 L547.10,35.25 L547.93,35.47 L548.76,35.70 L549.59,35.92 L550.42,36.14 L551.24,36.36 L552.07,36.58 L552.90,36.80 L553.73,37.02 L554.56,37.25 L555.38,37.47 L556.21,37.69 L557.04,37.91 L557.87,38.13 L558.70,38.35 L559.53,38.57 L560.35,38.79 L561.18,39.02 L562.01,39.24 L562.84,39.47 L563.67,39.69 L564.50,39.92 L565.32,40.14 L566.15,40.37 L566.98,40.59 L567.81,40.82 L568.64,41.04 L569.47,41.26 L570.29,41.48 L571.12,41.71 L571.95,41.93 L572.78,42.15 L573.61,42.37 L574.43,42.59 L575.26,42.81 L576.09,43.03 L576.92,43.25 L577.75,43.47 L578.58,43.68 L579.40,43.90 L580.23,44.12 L581.06,44.34 L581.89,44.55 L582.72,44.77 L583.55,44.98 L584.37,45.20 L585.20,45.41 L586.03,45.62 L586.86,45.84 L587.69,46.05 L588.52,46.26 L589.34,46.47 L590.17,46.68 L591.00,46.89 L591.83,47.10 L592.66,47.31 L593.48,47.52 L594.31,47.72 L595.14,47.93 L595.97,48.14 L596.80,48.34 L597.63,48.55 L598.45,48.75 L599.28,48.96 L600.11,49.16 L600.94,49.36 L601.77,49.56 L602.60,49.76 L603.42,49.96 L604.25,50.16 L605.08,50.36 L605.91,50.56 L606.74,50.76 L607.56,50.95 L608.39,51.15 L609.22,51.34 L610.05,51.54 L610.88,51.73 L611.71,51.93 L612.53,52.12 L613.36,52.31 L614.19,52.50 L615.02,52.69 L615.85,52.88 L616.68,53.07 L617.50,53.26 L618.33,53.45 L619.16,53.64 L619.99,53.82 L620.82,54.01 L621.65,54.19 L622.47,54.38 L623.30,54.56 L624.13,54.74 L624.96,54.93 L625.79,55.11 L626.61,55.29 L627.44,55.47 L628.27,55.65 L629.10,55.83 L629.93,56.01 L630.76,56.19 L631.58,56.36 L632.41,56.54 L633.24,56.72 L634.07,56.89 L634.90,57.07 L635.73,57.24 L636.55,57.41 L637.38,57.59 L638.21,57.76 L639.04,57.93 L639.87,58.10 L640.69,58.27 L641.52,58.45 L642.35,58.62 L643.18,58.79 L644.01,58.96 L644.84,59.12 L645.66,59.29 L646.49,59.46 L647.32,59.63 L648.15,59.80 L648.98,59.96 L649.81,60.13 L650.63,60.29 L651.46,60.46 L652.29,60.62 L653.12,60.79 L653.95,60.95 L654.78,61.12 L655.60,61.28 L656.43,61.44 L657.26,61.60 L658.09,61.77 L658.92,61.93 L659.74,62.09 L660.57,62.25 L661.40,62.41 L662.23,62.57 L663.06,62.73 L663.89,62.90 L664.71,63.06 L665.54,63.22 L666.37,63.37 L667.20,63.53 L668.03,63.69 L668.86,63.85 L669.68,64.01 L670.51,64.17 L671.34,64.33 L672.17,64.49 L673.00,64.65 L673.83,64.80 L674.65,64.96 L675.48,65.12 L676.31,65.28 L677.14,65.44 L677.97,65.59 L678.79,65.75 L679.62,65.91 L680.45,66.06 L681.28,66.22 L682.11,66.38 L682.94,66.54 L683.76,66.69 L684.59,66.85 L685.42,67.01 L686.25,67.16 L687.08,67.32 L687.91,67.48 L688.73,67.63 L689.56,67.79 L690.39,67.95 L691.22,68.10 L692.05,68.26 L692.87,68.42 L693.70,68.58 L694.53,68.73 L695.36,68.89 L696.19,69.05 L697.02,69.20 L697.84,69.36 L698.67,69.52 L699.50,69.67 L700.33,69.83 L701.16,69.99 L701.99,70.14 L702.81,70.30 L703.64,70.46 L704.47,70.61 L705.30,70.77 L706.13,70.93 L706.96,71.08 L707.78,71.24 L708.61,71.40 L709.44,71.56 L710.27,71.71 L711.10,71.87 L711.92,72.03 L712.75,72.18 L713.58,72.34 L714.41,72.50 L715.24,72.66 L716.07,72.81 L716.89,72.97 L717.72,73.13 L718.55,73.29 L719.38,73.44 L720.21,73.60 L721.04,73.76 L721.86,73.92 L722.69,74.07 L723.52,74.23 L724.35,74.39 L725.18,74.55 L726.01,74.70 L726.83,74.86 L727.66,75.02 L728.49,75.17 L729.32,75.33 L730.15,75.49 L730.97,75.65 L731.80,75.80 L732.63,75.96 L733.46,76.12 L734.29,76.28 L735.12,76.43 L735.94,76.59 L736.77,76.75 L737.60,76.90 L738.43,77.06 L739.26,77.22 L740.09,77.37 L740.91,77.53 L741.74,77.69 L742.57,77.84 L743.40,78.00 L744.23,78.15 L745.05,78.31 L745.88,78.47 L746.71,78.62 L747.54,78.78 L748.37,78.93 L749.20,79.09 L750.02,79.24 L750.85,79.40 L751.68,79.55 L752.51,79.70 L753.34,79.86 L754.17,80.01 L754.99,80.16 L755.82,80.32 L756.65,80.47 L757.48,80.62 L758.31,80.78 L759.14,80.93 L759.96,81.08 L760.79,81.23 L761.62,81.38 L762.45,81.53 L763.28,81.68 L764.10,81.83 L764.93,81.98 L765.76,82.13 L766.59,82.28 L767.42,82.43 L768.25,82.57 L769.07,82.72 L769.90,82.87 L770.73,83.01 L771.56,83.16 L772.39,83.31 L773.22,83.45 L774.04,83.59 L774.87,83.74 L775.70,83.88 L776.53,84.02 L777.36,84.17 L778.19,84.31 L779.01,84.45 L779.84,84.59 L780.67,84.73 L781.50,84.87 L782.33,85.00 L783.15,85.14 L783.98,85.28 L784.81,85.41 L785.64,85.55 L786.47,85.68 L787.30,85.82 L788.12,85.95 L788.95,86.08 L789.78,86.21 L790.61,86.34 L791.44,86.47 L792.27,86.60 L793.09,86.73 L793.92,86.85 L794.75,86.98 L795.58,87.10 L796.41,87.23 L797.23,87.35 L798.06,87.47 L798.89,87.59 L799.72,87.71 L800.55,87.83 L801.38,87.94 L802.20,88.06 L803.03,88.17 L803.86,88.29 L804.69,88.40 L805.52,88.51 L806.35,88.62 L807.17,88.73 L808.00,88.84 L808.83,88.94 L809.66,89.05 L810.49,89.15 L811.32,89.25 L812.14,89.35 L812.97,89.45 L813.80,89.55" stroke="#0000ff" stroke-dasharray="7.03 2.46" stroke-dashoffset="0.2"/>
</g>
<g stroke="#000" stroke-opacity="0.63" stroke-width="1.05" fill="none">
<rect x="54.5" y="0.45" width="775.38" height="479.05"/>
<line x1="70.5" y1="479.5" x2="70.5" y2="476.60"/>
<line x1="70.5" y1="0.45" x2="70.5" y2="2.95"/>
<line x1="101.5" y1="479.5" x2="101.5" y2="476.60"/>
<line x1="101.5" y1="0.45" x2="101.5" y2="2.95"/>
<line x1="132.5" y1="479.5" x2="132.5" y2="474.80"/>
<line x1="132.5" y1="0.45" x2="132.5" y2="4.75"/>
<line x1="163.5" y1="479.5" x2="163.5" y2="476.60"/>
<line x1="163.5" y1="0.45" x2="163.5" y2="2.95"/>
<line x1="194.5" y1="479.5" x2="194.5" y2="476.60"/>
<line x1="194.5" y1="0.45" x2="194.5" y2="2.95"/>
<line x1="225.5" y1="479.5" x2="225.5" y2="476.60"/>
<line x1="225.5" y1="0.45" x2="225.5" y2="2.95"/>
<line x1="256.5" y1="479.5" x2="256.5" y2="474.80"/>
<line x1="256.5" y1="0.45" x2="256.5" y2="4.75"/>
<line x1="287.5" y1="479.5" x2="287.5" y2="476.60"/>
<line x1="287.5" y1="0.45" x2="287.5" y2="2.95"/>
<line x1="318.5" y1="479.5" x2="318.5" y2="476.60"/>
<line x1="318.5" y1="0.45" x2="318.5" y2="2.95"/>
<line x1="349.5" y1="479.5" x2="349.5" y2="476.60"/>
<line x1="349.5" y1="0.45" x2="349.5" y2="2.95"/>
<line x1="380.5" y1="479.5" x2="380.5" y2="474.80"/>
<line x1="380.5" y1="0.45" x2="380.5" y2="4.75"/>
<line x1="411.5" y1="479.5" x2="411.5" y2="476.60"/>
<line x1="411.5" y1="0.45" x2="411.5" y2="2.95"/>
<line x1="442.5" y1="479.5" x2="442.5" y2="476.60"/>
<line x1="442.5" y1="0.45" x2="442.5" y2="2.95"/>
<line x1="473.5" y1="479.5" x2="473.5" y2="476.60"/>
<line x1="473.5" y1="0.45" x2="473.5" y2="2.95"/>
<line x1="504.5" y1="479.5" x2="504.5" y2="474.80"/>
<line x1="504.5" y1="0.45" x2="504.5" y2="4.75"/>
<line x1="535.5" y1="479.5" x2="535.5" y2="476.60"/>
<line x1="535.5" y1="0.45" x2="535.5" y2="2.95"/>
<line x1="566.5" y1="479.5" x2="566.5" y2="476.60"/>
<line x1="566.5" y1="0.45" x2="566.5" y2="2.95"/>
<line x1="597.5" y1="479.5" x2="597.5" y2="476.60"/>
<line x1="597.5" y1="0.45" x2="597.5" y2="2.95"/>
<line x1="628.5" y1="479.5" x2="628.5" y2="474.80"/>
<line x1="628.5" y1="0.45" x2="628.5" y2="4.75"/>
<line x1="659.5" y1="479.5" x2="659.5" y2="476.60"/>
<line x1="659.5" y1="0.45" x2="659.5" y2="2.95"/>
<line x1="690.5" y1="479.5" x2="690.5" y2="476.60"/>
<line x1="690.5" y1="0.45" x2="690.5" y2="2.95"/>
<line x1="721.5" y1="479.5" x2="721.5" y2="476.60"/>
<line x1="721.5" y1="0.45" x2="721.5" y2="2.95"/>
<line x1="752.5" y1="479.5" x2="752.5" y2="474.80"/>
<line x1="752.5" y1="0.45" x2="752.5" y2="4.75"/>
<line x1="783.5" y1="479.5" x2="783.5" y2="476.60"/>
<line x1="783.5" y1="0.45" x2="783.5" y2="2.95"/>
<line x1="814.5" y1="479.5" x2="814.5" y2="476.60"/>
<line x1="814.5" y1="0.45" x2="814.5" y2="2.95"/>
<line x1="54.5" y1="465.5" x2="59.20" y2="465.5"/>
<line x1="829.88" y1="465.5" x2="825.18" y2="465.5"/>
<line x1="54.5" y1="448.5" x2="57.40" y2="448.5"/>
<line x1="829.88" y1="448.5" x2="826.98" y2="448.5"/>
<line x1="54.5" y1="430.5" x2="57.40" y2="430.5"/>
<line x1="829.88" y1="430.5" x2="826.98" y2="430.5"/>
<line x1="54.5" y1="413.5" x2="57.40" y2="413.5"/>
<line x1="829.88" y1="413.5" x2="826.98" y2="413.5"/>
<line x1="54.5" y1="396.5" x2="57.40" y2="396.5"/>
<line x1="829.88" y1="396.5" x2="826.98" y2="396.5"/>
<line x1="54.5" y1="378.5" x2="59.20" y2="378.5"/>
<line x1="829.88" y1="378.5" x2="825.18" y2="378.5"/>
<line x1="54.5" y1="361.5" x2="57.40" y2="361.5"/>
<line x1="829.88" y1="361.5" x2="826.98" y2="361.5"/>
<line x1="54.5" y1="344.5" x2="57.40" y2="344.5"/>
<line x1="829.88" y1="344.5" x2="826.98" y2="344.5"/>
<line x1="54.5" y1="327.5" x2="57.40" y2="327.5"/>
<line x1="829.88" y1="327.5" x2="826.98" y2="327.5"/>
<line x1="54.5" y1="309.5" x2="57.40" y2="309.5"/>
<line x1="829.88" y1="309.5" x2="826.98" y2="309.5"/>
<line x1="54.5" y1="292.5" x2="59.20" y2="292.5"/>
<line x1="829.88" y1="292.5" x2="825.18" y2="292.5"/>
<line x1="54.5" y1="275.5" x2="57.40" y2="275.5"/>
<line x1="829.88" y1="275.5" x2="826.98" y2="275.5"/>
<line x1="54.5" y1="257.5" x2="57.40" y2="257.5"/>
<line x1="829.88" y1="257.5" x2="826.98" y2="257.5"/>
<line x1="54.5" y1="240.5" x2="57.40" y2="240.5"/>
<line x1="829.88" y1="240.5" x2="826.98" y2="240.5"/>
<line x1="54.5" y1="223.5" x2="57.40" y2="223.5"/>
<line x1="829.88" y1="223.5" x2="826.98" y2="223.5"/>
<line x1="54.5" y1="205.5" x2="59.20" y2="205.5"/>
<line x1="829.88" y1="205.5" x2="825.18" y2="205.5"/>
<line x1="54.5" y1="188.5" x2="57.40" y2="188.5"/>
<line x1="829.88" y1="188.5" x2="826.98" y2="188.5"/>
<line x1="54.5" y1="171.5" x2="57.40" y2="171.5"/>
<line x1="829.88" y1="171.5" x2="826.98" y2="171.5"/>
<line x1="54.5" y1="153.5" x2="57.40" y2="153.5"/>
<line x1="829.88" y1="153.5" x2="826.98" y2="153.5"/>
<line x1="54.5" y1="136.5" x2="57.40" y2="136.5"/>
<line x1="829.88" y1="136.5" x2="826.98" y2="136.5"/>
<line x1="54.5" y1="119.5" x2="59.20" y2="119.5"/>
<line x1="829.88" y1="119.5" x2="825.18" y2="119.5"/>
<line x1="54.5" y1="101.5" x2="57.40" y2="101.5"/>
<line x1="829.88" y1="101.5" x2="826.98" y2="101.5"/>
<line x1="54.5" y1="84.5" x2="57.40" y2="84.5"/>
<line x1="829.88" y1="84.5" x2="826.98" y2="84.5"/>
<line x1="54.5" y1="67.5" x2="57.40" y2="67.5"/>
<line x1="829.88" y1="67.5" x2="826.98" y2="67.5"/>
<line x1="54.5" y1="49.5" x2="57.40" y2="49.5"/>
<line x1="829.88" y1="49.5" x2="826.98" y2="49.5"/>
<line x1="54.5" y1="32.5" x2="59.20" y2="32.5"/>
<line x1="829.88" y1="32.5" x2="825.18" y2="32.5"/>
<line x1="54.5" y1="15.5" x2="57.40" y2="15.5"/>
<line x1="829.88" y1="15.5" x2="826.98" y2="15.5"/>
</g>
<g font-size="24" fill="#000">
<rect x="119.02" y="499.75" width="11.5" height="2.1"/>
<text x="132.97" y="507">4</text>
<rect x="243.06" y="499.75" width="11.5" height="2.1"/>
<text x="257.01" y="507">2</text>
<text x="380.30" y="507" text-anchor="middle">0</text>
<text x="504.34" y="507" text-anchor="middle">2</text>
<text x="628.38" y="507" text-anchor="middle">4</text>
<text x="752.42" y="507" text-anchor="middle">6</text>
<text x="51.6" y="473.90" text-anchor="end">2</text>
<text x="51.6" y="387.28" text-anchor="end">3</text>
<text x="51.6" y="300.66" text-anchor="end">4</text>
<text x="51.6" y="214.04" text-anchor="end">5</text>
<text x="51.6" y="127.42" text-anchor="end">6</text>
<text x="51.6" y="40.80" text-anchor="end">7</text>
<text x="443.3" y="545" text-anchor="middle" font-style="italic">z</text>
</g>
<g transform="translate(23.6,291) rotate(-90)" fill="#000" font-size="24" stroke="#000" stroke-width="0">
<path d="M0.6,-10.7 C2,-12.3 3.7,-13.3 5.4,-13.3 C7.8,-13.3 9.6,-12.4 10.3,-11 C10.9,-9.7 10.8,-8.3 9.7,-7.2 C8.5,-6.1 6.5,-5.7 4.3,-5.8 M3.0,-11.0 C2.9,-8.3 2.7,-5.2 2.5,-2.3 C2.4,-1.5 2.6,-0.9 3.2,-0.5 L4.6,0.1 M7.4,-6.1 C8.6,-4.3 9.9,-2.3 11.1,-0.8 C11.5,-0.4 12,-0.5 12.3,-0.9 M14.2,-5.0 C16,-5.6 17.9,-6.4 19.3,-7.3 C18.9,-8.7 17.8,-9.5 16.5,-9.4 C15.1,-9.3 14.1,-7.9 13.8,-6.0 C13.6,-4.5 13.7,-3.2 14.2,-2.3 C14.8,-1.1 15.6,-0.6 16.6,-0.7 C17.8,-0.9 18.8,-1.9 19.5,-3.2" transform="scale(1.30,1.26)" fill="none" stroke-width="1.6" stroke-linecap="round" stroke-linejoin="round"/>
<text x="27.8" y="0">(</text>
<text x="37.3" y="0" font-style="italic">H</text>
<text x="55.0" y="5" font-size="16.8" font-style="italic">T</text>
<text x="67.3" y="0">(</text>
<text x="74.7" y="0">z</text>
<text x="87.6" y="0">)</text>
<text x="95.1" y="0">)</text>
</g>
<g transform="translate(646.6,53.4)" fill="#0000ff" font-size="19.5" stroke="#0000ff" stroke-width="0.0">
<path d="M0.6,-10.7 C2,-12.3 3.7,-13.3 5.4,-13.3 C7.8,-13.3 9.6,-12.4 10.3,-11 C10.9,-9.7 10.8,-8.3 9.7,-7.2 C8.5,-6.1 6.5,-5.7 4.3,-5.8 M3.0,-11.0 C2.9,-8.3 2.7,-5.2 2.5,-2.3 C2.4,-1.5 2.6,-0.9 3.2,-0.5 L4.6,0.1 M7.4,-6.1 C8.6,-4.3 9.9,-2.3 11.1,-0.8 C11.5,-0.4 12,-0.5 12.3,-0.9 M14.2,-5.0 C16,-5.6 17.9,-6.4 19.3,-7.3 C18.9,-8.7 17.8,-9.5 16.5,-9.4 C15.1,-9.3 14.1,-7.9 13.8,-6.0 C13.6,-4.5 13.7,-3.2 14.2,-2.3 C14.8,-1.1 15.6,-0.6 16.6,-0.7 C17.8,-0.9 18.8,-1.9 19.5,-3.2" fill="none" stroke-width="1.5" stroke-linecap="round" stroke-linejoin="round"/>
<text x="21.4" y="0.3" font-size="18.5">(</text>
<text x="28.7" y="0.6" font-style="italic">H</text>
<text x="42.1" y="5.2" font-size="13.7" font-style="italic">T</text>
<text x="42.75" y="-9.8" font-size="13.7">(6)</text>
<text x="60.2" y="0.3" font-size="18.5">(</text>
<text x="66.25" y="0.6">z</text>
<text x="76.5" y="0.3" font-size="18.5">)</text>
<text x="83.3" y="0.3" font-size="18.5">)</text>
</g>
<g transform="translate(442.0,83.5)" fill="#ff0000" font-size="19.5" stroke="#ff0000" stroke-width="0.0">
<path d="M0.6,-10.7 C2,-12.3 3.7,-13.3 5.4,-13.3 C7.8,-13.3 9.6,-12.4 10.3,-11 C10.9,-9.7 10.8,-8.3 9.7,-7.2 C8.5,-6.1 6.5,-5.7 4.3,-5.8 M3.0,-11.0 C2.9,-8.3 2.7,-5.2 2.5,-2.3 C2.4,-1.5 2.6,-0.9 3.2,-0.5 L4.6,0.1 M7.4,-6.1 C8.6,-4.3 9.9,-2.3 11.1,-0.8 C11.5,-0.4 12,-0.5 12.3,-0.9 M14.2,-5.0 C16,-5.6 17.9,-6.4 19.3,-7.3 C18.9,-8.7 17.8,-9.5 16.5,-9.4 C15.1,-9.3 14.1,-7.9 13.8,-6.0 C13.6,-4.5 13.7,-3.2 14.2,-2.3 C14.8,-1.1 15.6,-0.6 16.6,-0.7 C17.8,-0.9 18.8,-1.9 19.5,-3.2" fill="none" stroke-width="1.5" stroke-linecap="round" stroke-linejoin="round"/>
<text x="21.4" y="0.3" font-size="18.5">(</text>
<text x="28.7" y="0.6" font-style="italic">H</text>
<text x="42.1" y="5.2" font-size="13.7" font-style="italic">T</text>
<text x="42.75" y="-9.8" font-size="13.7">(3)</text>
<text x="60.2" y="0.3" font-size="18.5">(</text>
<text x="66.25" y="0.6">z</text>
<text x="76.5" y="0.3" font-size="18.5">)</text>
<text x="83.3" y="0.3" font-size="18.5">)</text>
</g>
<g transform="translate(413.4,300.0)" fill="#ff00ff" font-size="19.5" stroke="#ff00ff" stroke-width="0.0">
<path d="M0.6,-10.7 C2,-12.3 3.7,-13.3 5.4,-13.3 C7.8,-13.3 9.6,-12.4 10.3,-11 C10.9,-9.7 10.8,-8.3 9.7,-7.2 C8.5,-6.1 6.5,-5.7 4.3,-5.8 M3.0,-11.0 C2.9,-8.3 2.7,-5.2 2.5,-2.3 C2.4,-1.5 2.6,-0.9 3.2,-0.5 L4.6,0.1 M7.4,-6.1 C8.6,-4.3 9.9,-2.3 11.1,-0.8 C11.5,-0.4 12,-0.5 12.3,-0.9 M14.2,-5.0 C16,-5.6 17.9,-6.4 19.3,-7.3 C18.9,-8.7 17.8,-9.5 16.5,-9.4 C15.1,-9.3 14.1,-7.9 13.8,-6.0 C13.6,-4.5 13.7,-3.2 14.2,-2.3 C14.8,-1.1 15.6,-0.6 16.6,-0.7 C17.8,-0.9 18.8,-1.9 19.5,-3.2" fill="none" stroke-width="1.5" stroke-linecap="round" stroke-linejoin="round"/>
<text x="21.4" y="0.3" font-size="18.5">(</text>
<text x="28.7" y="0.6" font-style="italic">H</text>
<text x="42.1" y="5.2" font-size="13.7" font-style="italic">T</text>
<text x="42.75" y="-9.8" font-size="13.7">(1)</text>
<text x="60.2" y="0.3" font-size="18.5">(</text>
<text x="66.25" y="0.6">z</text>
<text x="76.5" y="0.3" font-size="18.5">)</text>
<text x="83.3" y="0.3" font-size="18.5">)</text>
</g>
</svg>
</body></html>
